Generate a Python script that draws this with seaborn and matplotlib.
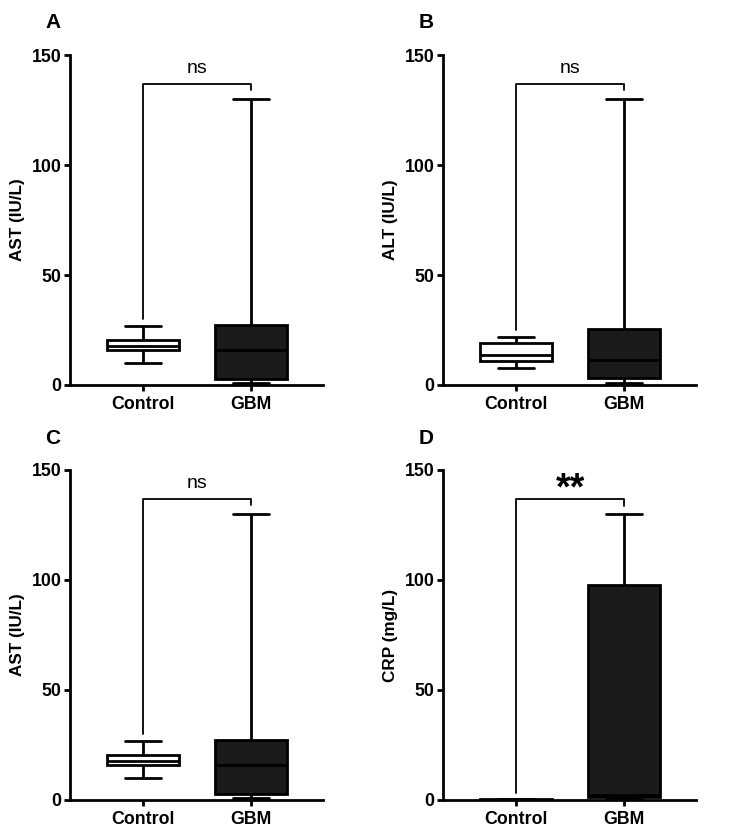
import pandas as pd
import matplotlib
matplotlib.use("Agg")
import matplotlib.pyplot as plt
import seaborn as sns

groups = ["Control", "GBM"]

# five-number summaries (min, Q1, median, Q3, max)
ast_control = [10, 16, 17.7, 20.5, 27]
ast_gbm = [1, 2.7, 16, 27.3, 130]
alt_control = [7.9, 11, 13.6, 19.2, 21.7]
alt_gbm = [1, 3, 11.4, 25.5, 130]
crp_control = [0.0, 0.1, 0.2, 0.3, 0.5]
crp_gbm = [0.3, 1.2, 2.5, 97.8, 130.2]

panel_letters = ["A", "B", "C", "D"]
ylabels = ["AST (IU/L)", "ALT (IU/L)", "AST (IU/L)", "CRP (mg/L)"]
signif = ["ns", "ns", "ns", "**"]
panel_data = [(ast_control, ast_gbm), (alt_control, alt_gbm),
              (ast_control, ast_gbm), (crp_control, crp_gbm)]
yticks = [0, 50, 100, 150]

sns.set_style("ticks")
plt.rcParams["font.family"] = ["Liberation Sans", "DejaVu Sans"]
plt.rcParams.update({"axes.linewidth": 2.0, "text.color": "black",
                     "axes.labelcolor": "black", "axes.edgecolor": "black",
                     "xtick.color": "black", "ytick.color": "black"})

W, H = 750, 840
fig = plt.figure(figsize=(W / 100, H / 100), dpi=100)

# axes boxes in pixels: left, top, right, bottom
boxes = [(70, 55, 323, 385), (443, 55, 696, 385),
         (70, 470, 323, 800), (443, 470, 696, 800)]
# bracket legs (left leg bottom, right leg bottom)
legs = [(30, 134), (25, 134), (30, 134), (3, 133.5)]

palette = {"Control": "white", "GBM": "#1a1a1a"}

for i, (l, t, r, b) in enumerate(boxes):
    ax = fig.add_axes([l / W, 1 - b / H, (r - l) / W, (b - t) / H])
    ctrl, gbm = panel_data[i]
    df = pd.DataFrame({"group": ["Control"] * len(ctrl) + ["GBM"] * len(gbm),
                       "value": ctrl + gbm})
    sns.boxplot(data=df, x="group", y="value", hue="group", palette=palette,
                order=groups, whis=(0, 100), width=0.667, linecolor="black",
                linewidth=2.0, legend=False, ax=ax, fliersize=0)
    ax.set_xlim(-0.676, 1.667)
    ax.set_ylim(0, 150)
    ax.set_yticks(yticks)
    sns.despine(ax=ax)
    ax.tick_params(axis="both", labelsize=12.8, length=4, width=2.0, pad=2)
    ax.tick_params(axis="x", pad=4)
    for lab in ax.get_xticklabels() + ax.get_yticklabels():
        lab.set_fontweight("bold")
    ax.set_xlabel("")
    ax.set_ylabel(ylabels[i], fontsize=12.3, fontweight="bold", labelpad=5)

    # significance bracket
    top = 137
    ax.plot([0, 0, 1, 1], [legs[i][0], top, top, legs[i][1]],
            color="black", lw=1.3, clip_on=False)
    if signif[i] == "ns":
        ax.text(0.5, top + 3, "ns", ha="center", va="bottom", fontsize=14)
    else:
        ax.text(0.5, top - 4, "**", ha="center", va="bottom", fontsize=27,
                fontweight="bold")

    fig.text((l - 17) / W, 1 - (t - 32) / H, panel_letters[i], fontsize=15,
             fontweight="bold", ha="center", va="center")

fig.savefig("out.png", dpi=100)
